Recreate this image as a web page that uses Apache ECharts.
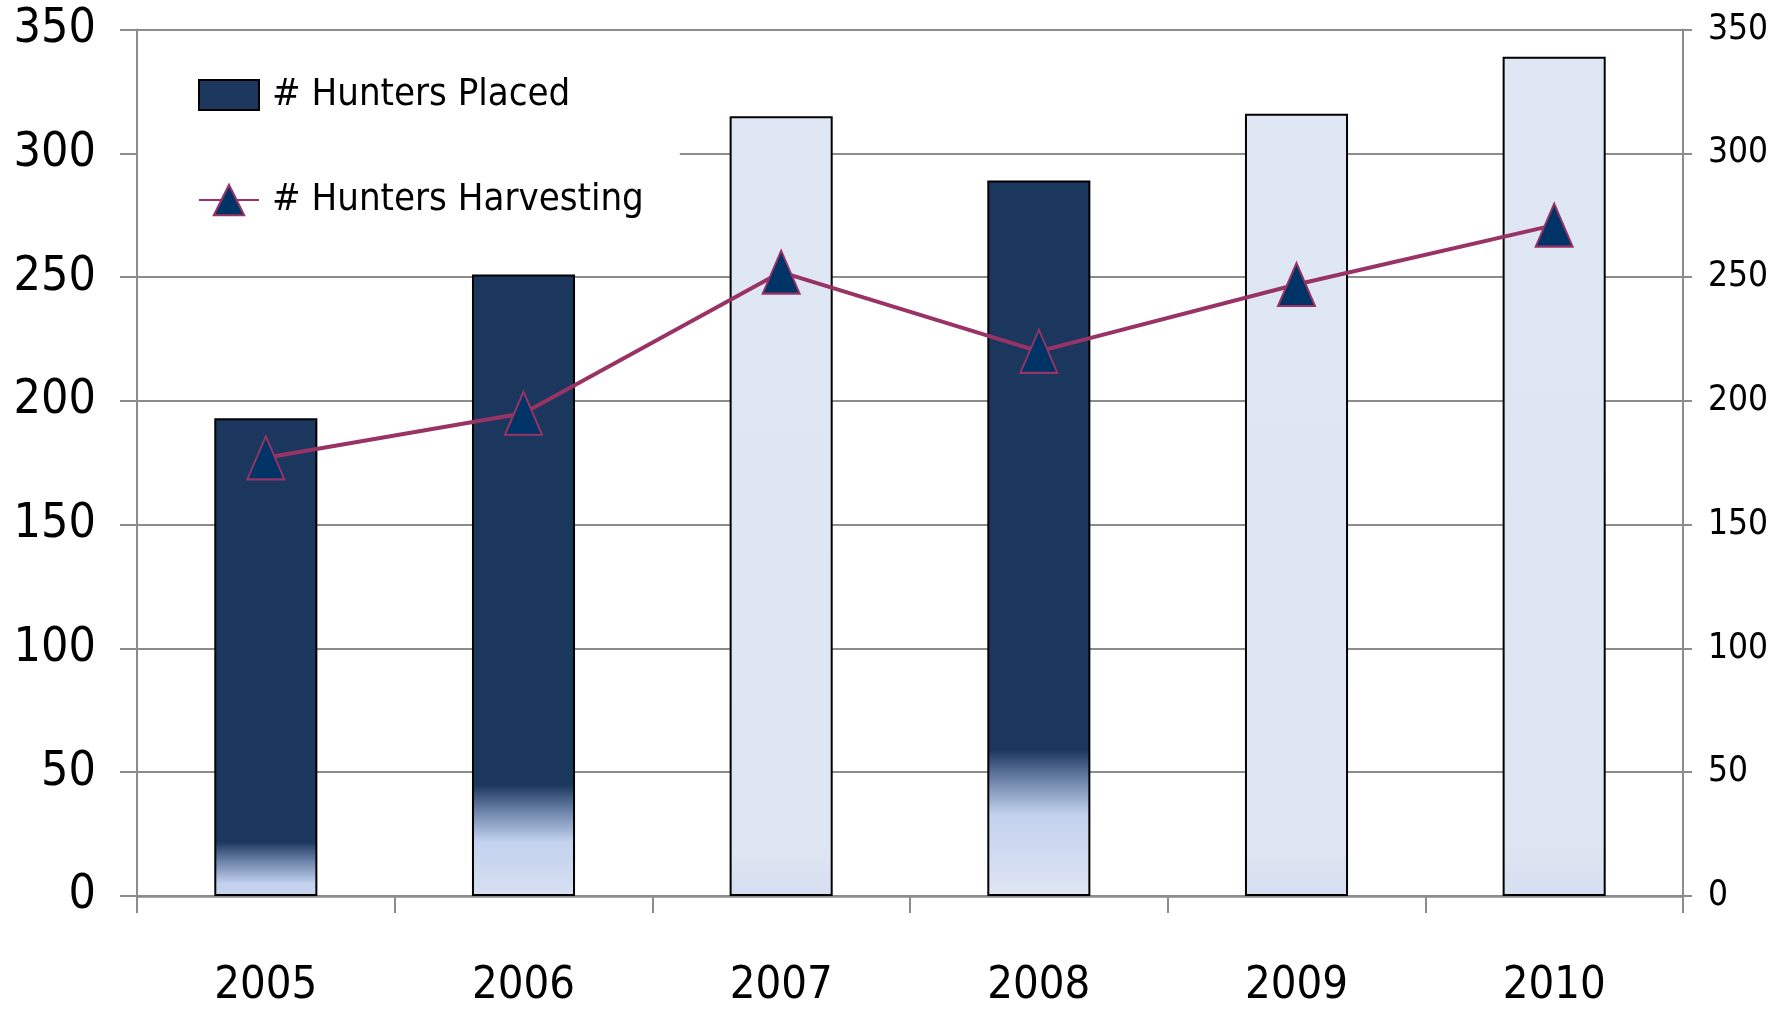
<!DOCTYPE html>
<html>
<head>
<meta charset="utf-8">
<script src="https://cdn.jsdelivr.net/npm/echarts@6/dist/echarts.min.js"></script>
<style>
html,body{margin:0;padding:0;background:#fff;}
#chart{width:1777px;height:1009px;}
</style>
</head>
<body>
<div id="chart"></div>
<script>
// ---- data ----
const years = ['2005', '2006', '2007', '2008', '2009', '2010'];
const huntersPlaced = [193, 251, 315, 289, 316, 339];
const huntersHarvesting = [177, 195, 252, 220, 247, 271];
const axisMin = 0, axisMax = 350, axisStep = 50;

// ---- styles (fill treatment of each bar) ----
const barFill = [
  {kind: 'dark', darkTo: 22, lightAt: 5, bottom: '#c9d6ef'},
  {kind: 'dark', darkTo: 45, lightAt: 22, bottom: '#d8e0f1'},
  {kind: 'light'},
  {kind: 'dark', darkTo: 59, lightAt: 33, bottom: '#e0e6f3'},
  {kind: 'light'},
  {kind: 'light'}
];
const NAVY = '#1b375e';
const MAROON = '#993366';
const GRID = '#8c8c8c';
const FONT = '"DejaVu Sans Condensed", "Liberation Sans", sans-serif';

function fillFor(v, f) {
  if (f.kind === 'light') {
    return new echarts.graphic.LinearGradient(0, 0, 0, 1, [
      {offset: 0, color: '#e0e7f4'},
      {offset: 0.93, color: '#dfe6f3'},
      {offset: 1, color: '#d6dff0'}
    ]);
  }
  const a = (v - f.darkTo) / v, b = (v - (f.darkTo + f.lightAt) / 2) / v, c = (v - f.lightAt) / v;
  return new echarts.graphic.LinearGradient(0, 0, 0, 1, [
    {offset: 0, color: NAVY},
    {offset: a, color: NAVY},
    {offset: b, color: '#7288ae'},
    {offset: c, color: '#c2d1ee'},
    {offset: 1, color: f.bottom}
  ]);
}

const chart = echarts.init(document.getElementById('chart'), null, {renderer: 'canvas'});
const option = {
  animation: false,
  backgroundColor: '#fff',
  grid: {left: 137, right: 94, top: 29.5, bottom: 112.3},
  legend: {
    orient: 'vertical',
    left: 138, top: 50,
    z: 1,
    padding: [26, 36, 26, 60],
    itemWidth: 60, itemHeight: 38, itemGap: 67,
    backgroundColor: '#fff',
    textStyle: {fontSize: 38, fontFamily: FONT, color: '#000', padding: [3, 0, 0, 8]},
    data: [
      {name: '# Hunters Placed', icon: 'path://M0,0H60V30H0Z'},
      {name: '# Hunters Harvesting'}
    ]
  },
  xAxis: {
    type: 'category',
    data: years,
    axisLine: {lineStyle: {color: GRID, width: 2.5}},
    axisTick: {show: true, length: 17, lineStyle: {color: GRID, width: 2}},
    axisLabel: {fontSize: 45, fontFamily: FONT, color: '#000', margin: 68, lineHeight: 45}
  },
  yAxis: [
    {
      type: 'value', min: axisMin, max: axisMax, interval: axisStep, position: 'left',
      axisLine: {show: true, lineStyle: {color: GRID, width: 2}},
      axisTick: {show: true, length: 17, lineStyle: {color: GRID, width: 2}},
      axisLabel: {fontSize: 48, fontFamily: FONT, color: '#000', margin: 41},
      splitLine: {show: true, lineStyle: {color: GRID, width: 2}}
    },
    {
      type: 'value', min: axisMin, max: axisMax, interval: axisStep, position: 'right',
      axisLine: {show: true, lineStyle: {color: GRID, width: 2}},
      axisTick: {show: true, length: 9, lineStyle: {color: GRID, width: 2}},
      axisLabel: {fontSize: 35, fontFamily: FONT, color: '#000', margin: 25},
      splitLine: {show: false}
    }
  ],
  series: [
    {
      name: '# Hunters Placed',
      type: 'bar',
      barWidth: '40%',
      itemStyle: {color: NAVY, borderColor: '#000', borderWidth: 2},
      data: huntersPlaced.map((v, i) => ({
        value: v,
        itemStyle: {color: fillFor(v, barFill[i]), borderColor: '#000', borderWidth: 2}
      })),
      z: 2
    },
    {
      name: '# Hunters Harvesting',
      type: 'line',
      yAxisIndex: 1,
      data: huntersHarvesting,
      symbol: 'triangle',
      symbolSize: [37, 43],
      itemStyle: {color: '#003366', borderColor: MAROON, borderWidth: 2},
      lineStyle: {color: MAROON, width: 4},
      z: 3
    }
  ]
};
chart.setOption(option);
</script>
</body>
</html>
